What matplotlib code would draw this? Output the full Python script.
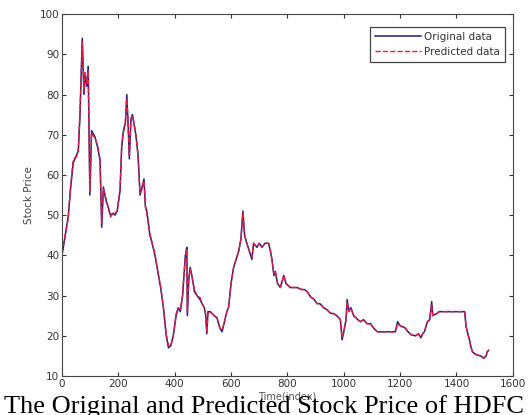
import numpy as np
import matplotlib
matplotlib.use('Agg')
import matplotlib.pyplot as plt

# Time index and prices
time_idx = [0, 11, 22, 31, 40, 52, 58, 64, 72, 78, 82, 88, 93, 99, 105, 117, 126, 135,
            141, 147, 155, 164, 172, 182, 188, 196, 206, 212, 218, 225, 230, 235, 239,
            245, 250, 255, 262, 270, 277, 285, 291, 296, 301, 312, 320, 330, 340, 350,
            360, 370, 378, 386, 395, 405, 413, 420, 428, 432, 438, 443, 445, 450, 455,
            461, 470, 479, 490, 497, 505, 510, 514, 518, 526, 540, 550, 560, 568, 575,
            585, 591, 600, 609, 618, 627, 635, 642, 648, 656, 665, 674, 680, 692, 700,
            710, 720, 733, 740, 745, 752, 757, 765, 775, 787, 795, 810, 820, 834, 850,
            860, 870, 882, 895, 905, 915, 929, 940, 953, 965, 975, 988, 994, 1000, 1008,
            1012, 1018, 1025, 1035, 1050, 1060, 1070, 1083, 1095, 1105, 1119, 1140, 1160,
            1183, 1191, 1200, 1217, 1228, 1240, 1255, 1265, 1274, 1280, 1286, 1297, 1305,
            1312, 1316, 1320, 1330, 1337, 1350, 1380, 1410, 1429, 1434, 1440, 1446, 1452,
            1457, 1465, 1474, 1485, 1497, 1505, 1509, 1514]

original = [40, 44.7, 49.6, 57, 63, 65, 66, 75, 94, 80, 85, 82, 87, 55, 71, 69.5, 67, 63.7,
            47, 57, 54, 52, 50, 50.5, 50, 51, 56, 67, 71, 73, 80, 72, 64,
            74, 75, 73, 70, 65, 55, 57, 59, 52, 51, 45, 43, 40, 36, 32,
            27, 20, 17, 17.5, 20, 25, 27, 26, 30, 34, 40, 42, 25, 34, 37,
            35, 31, 30, 29, 28, 27, 25, 20.5, 26, 26, 25, 24.5, 22, 21, 23,
            26, 27, 33, 37, 39, 41, 44, 51, 45, 43, 41, 39, 43, 42, 43,
            42, 43, 43, 41, 39, 35, 36, 33, 32, 35, 33, 32, 32, 32, 31.5,
            31.5, 31, 29.7, 29, 28, 28, 27, 26.5, 25.6, 25.5, 25, 24, 19, 21, 24,
            29, 26, 27, 25, 24, 23.5, 24, 23, 23, 22, 21, 21, 21,
            21, 23.5, 22.5, 22, 21, 20.2, 20, 20.5, 19.5, 20.5, 21, 23.5, 24,
            28.5, 25, 25.2, 25.5, 26, 26, 26, 26, 26, 22.3, 20.5, 19, 17,
            16, 15.5, 15.2, 15, 14.4, 15, 16, 16.4]

predicted = [40.5, 45, 49, 57.5, 64, 64.5, 66.5, 76, 93, 81, 85.5, 82.5, 86, 56, 70.5, 69, 67.5, 64,
             48, 56.5, 54.5, 52, 49.5, 50.5, 50.5, 51, 56.5, 67.5, 70.5, 73, 79, 72.5, 65,
             74, 74.5, 73, 70.5, 64.5, 55.5, 57.5, 58.5, 52.5, 50.5, 45.5, 43, 40.5, 36, 32.5,
             27, 20.5, 17.5, 17.5, 20, 25.5, 27, 26.5, 30, 34.5, 40, 41.5, 26, 34.5, 36.5,
             35, 31.5, 30, 29.5, 28, 27, 25.5, 21, 25.5, 26, 25, 24.5, 22, 21.5, 23,
             26, 27, 33, 37, 39, 41, 44, 50.5, 45, 43, 41, 39.5, 43, 42, 43,
             42, 43, 43, 41, 39, 35.5, 36, 33, 32, 35, 33, 32, 32, 32, 31.5,
             31.5, 31, 29.7, 29, 28, 28, 27, 26.5, 25.6, 25.5, 25, 24, 19.5, 21, 24,
             28.5, 26, 27, 25, 24, 23.5, 24, 23, 23, 22, 21, 21, 21,
             21, 23, 22.5, 22, 21, 20.2, 20, 20.5, 19.8, 20.5, 21, 23.5, 24,
             28, 25, 25.2, 25.5, 26, 26, 26, 26, 26, 22.5, 20.5, 19, 17,
             16, 15.5, 15.2, 15, 14.5, 15, 16, 16.4]

x_ticks = list(range(0, 1601, 200))
y_ticks = list(range(10, 101, 10))

fig = plt.figure(figsize=(5.32, 4.15), dpi=100)
ax = fig.add_axes([0.1165, 0.094, 0.8475, 0.872])

ax.plot(time_idx, original, '-', color='#2a1a80', lw=1.1, label='Original data')
ax.plot(time_idx, predicted, '--', color='#e0203a', lw=1.0, label='Predicted data')

ax.set_xlim(0, 1600)
ax.set_ylim(10, 100)
ax.set_xticks(x_ticks)
ax.set_yticks(y_ticks)
ax.tick_params(direction='in', length=3, labelsize=7.5, colors='#333333',
               top=True, right=True, pad=2)
for s in ax.spines.values():
    s.set_color('#444444')
    s.set_linewidth(0.8)

ax.set_xlabel('Time(index)', fontsize=7, color='#555555', labelpad=2)
ax.set_ylabel('Stock Price', fontsize=7.5, color='#444444', labelpad=4)

leg = ax.legend(loc='upper right', bbox_to_anchor=(0.994, 0.98), fontsize=7.5,
                fancybox=False, framealpha=1, edgecolor='#444444', handlelength=4.4,
                borderpad=0.5, handletextpad=0.3)
leg.get_frame().set_linewidth(0.9)
for t in leg.get_texts():
    t.set_color('#333333')

fig.text(0.008, 0.006, 'The Original and Predicted Stock Price of HDFC',
         family='Liberation Serif', fontsize=19, ha='left', va='baseline')

fig.savefig('out.png', dpi=100)
